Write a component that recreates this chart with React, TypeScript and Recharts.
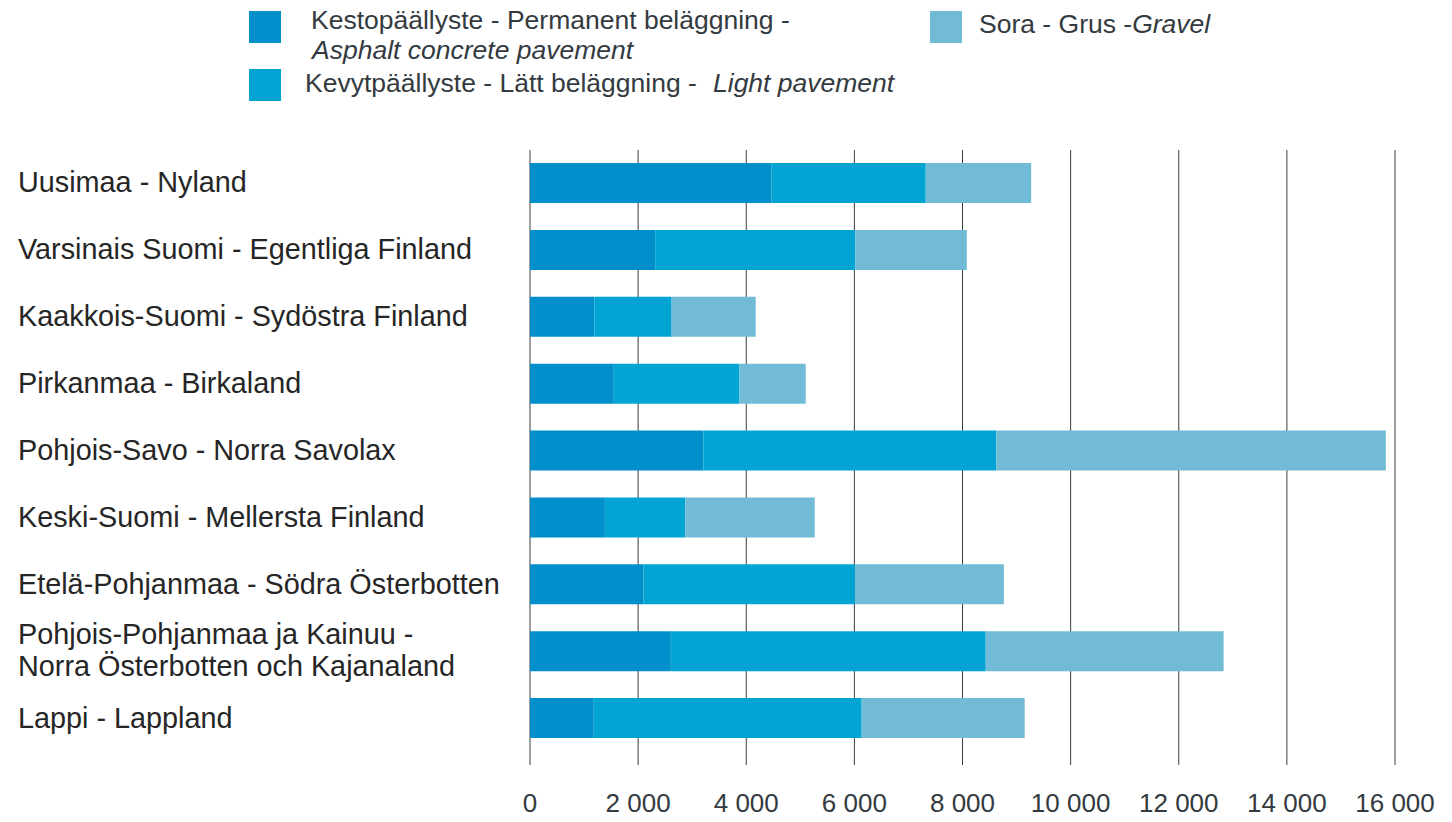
import React from 'react';
import { BarChart, Bar, XAxis, YAxis, CartesianGrid, Legend } from 'recharts';

const regions = [
  'Uusimaa - Nyland',
  'Varsinais Suomi - Egentliga Finland',
  'Kaakkois-Suomi - Sydöstra Finland',
  'Pirkanmaa - Birkaland',
  'Pohjois-Savo - Norra Savolax',
  'Keski-Suomi - Mellersta Finland',
  'Etelä-Pohjanmaa - Södra Österbotten',
  'Pohjois-Pohjanmaa ja Kainuu -\nNorra Österbotten och Kajanaland',
  'Lappi - Lappland',
];
const asphalt = [4470, 2315, 1190, 1550, 3205, 1385, 2100, 2605, 1180];
const lightPavement = [2850, 3705, 1430, 2325, 5420, 1487, 3910, 5825, 4955];
const gravel = [1950, 2060, 1555, 1225, 7205, 2395, 2755, 4400, 3015];

const majorTicks = [0, 2000, 4000, 6000, 8000, 10000, 12000, 14000, 16000];
const minorTicks = [1000, 3000, 5000, 7000, 9000, 11000, 13000, 15000];

const seriesKeys = ['asphalt', 'light', 'gravel'];
const seriesLocal = [
  'Kestopäällyste - Permanent beläggning -',
  'Kevytpäällyste - Lätt beläggning -',
  'Sora - Grus -',
];
const seriesEnglish = ['Asphalt concrete pavement', 'Light pavement', 'Gravel'];
const seriesColors = ['#008fcb', '#02a4d3', '#72bbd6'];

const data = regions.map((region, i) => ({
  region,
  asphalt: asphalt[i],
  light: lightPavement[i],
  gravel: gravel[i],
}));

const FONT = '"Liberation Sans", Arial, Helvetica, sans-serif';
const TEXT = '#333a40';
const LABEL = '#262626';
const GRID = '#3c3c3c';

const fmt = (v: number) => String(v).replace(/\B(?=(\d{3})+(?!\d))/g, ' ');

const XTick = (props: any) => {
  const { x, y, payload } = props;
  return (
    <text x={x} y={y} textAnchor="middle" dominantBaseline="central" fontSize={26} fill={TEXT} fontFamily={FONT}>
      {fmt(payload.value)}
    </text>
  );
};

const YTick = (props: any) => {
  const { y, payload } = props;
  const lines = String(payload.value).split('\n');
  const lh = 32;
  const start = -((lines.length - 1) * lh) / 2 - (lines.length > 1 ? 2 : 1);
  return (
    <text x={18} y={y} textAnchor="start" fontSize={28.8} fill={LABEL} fontFamily={FONT}>
      {lines.map((l, i) => (
        <tspan key={i} x={18} dy={i === 0 ? start : lh} dominantBaseline="central">
          {l}
        </tspan>
      ))}
    </text>
  );
};

const legendPos = [
  { sx: 249, sy: 11, tx: 311, ty: 7, ex: 312, ey: 37, inline: false },
  { sx: 249, sy: 69, tx: 305, ty: 70, ex: 713, ey: 70, inline: false },
  { sx: 930, sy: 11, tx: 979, ty: 11, ex: 0, ey: 0, inline: true },
];

const renderLegend = () => (
  <div style={{ position: 'relative', width: 1452, height: 120, fontFamily: FONT, color: TEXT, fontSize: 26.5, lineHeight: '26px' }}>
    {seriesLocal.map((name, i) => {
      const p = legendPos[i];
      return (
        <React.Fragment key={name}>
          <div style={{ position: 'absolute', left: p.sx, top: p.sy, width: 32, height: 32, background: seriesColors[i] }} />
          <div style={{ position: 'absolute', left: p.tx, top: p.ty, whiteSpace: 'nowrap' }}>
            {name}
            {p.inline ? <i>{seriesEnglish[i]}</i> : null}
          </div>
          {!p.inline && (
            <div style={{ position: 'absolute', left: p.ex, top: p.ey, whiteSpace: 'nowrap', fontStyle: 'italic' }}>
              {seriesEnglish[i]}
            </div>
          )}
        </React.Fragment>
      );
    })}
  </div>
);

export default function App() {
  return (
    <div style={{ position: 'absolute', left: 0, top: 0, background: '#fff' }}>
      <BarChart
        width={1452}
        height={822}
        data={data}
        layout="vertical"
        margin={{ top: 150, right: 57, bottom: 0, left: 0 }}
        barSize={40}
        style={{ fontFamily: FONT }}
      >
        <CartesianGrid horizontal={false} vertical={true} stroke={GRID} strokeWidth={1} />
        <XAxis
          type="number"
          domain={[0, 16000]}
          ticks={majorTicks}
          interval={0}
          axisLine={false}
          tickLine={{ stroke: GRID }}
          tickSize={13}
          tickMargin={38}
          height={7}
          tick={<XTick />}
        />
        <XAxis
          xAxisId="minor"
          type="number"
          domain={[0, 16000]}
          ticks={minorTicks}
          interval={0}
          axisLine={false}
          tickLine={{ stroke: GRID }}
          tickSize={6}
          height={63}
          tick={false}
        />
        <YAxis
          type="category"
          dataKey="region"
          width={530}
          axisLine={false}
          tickLine={false}
          interval={0}
          tick={<YTick />}
        />
        <Legend
          verticalAlign="middle"
          align="center"
          layout="horizontal"
          wrapperStyle={{ top: 0, left: 0, width: 1452, height: 120 }}
          content={renderLegend}
        />
        {seriesKeys.map((k, i) => (
          <Bar
            key={k}
            dataKey={k}
            stackId="a"
            name={`${seriesLocal[i]} ${seriesEnglish[i]}`}
            fill={seriesColors[i]}
            isAnimationActive={false}
          />
        ))}
      </BarChart>
    </div>
  );
}
